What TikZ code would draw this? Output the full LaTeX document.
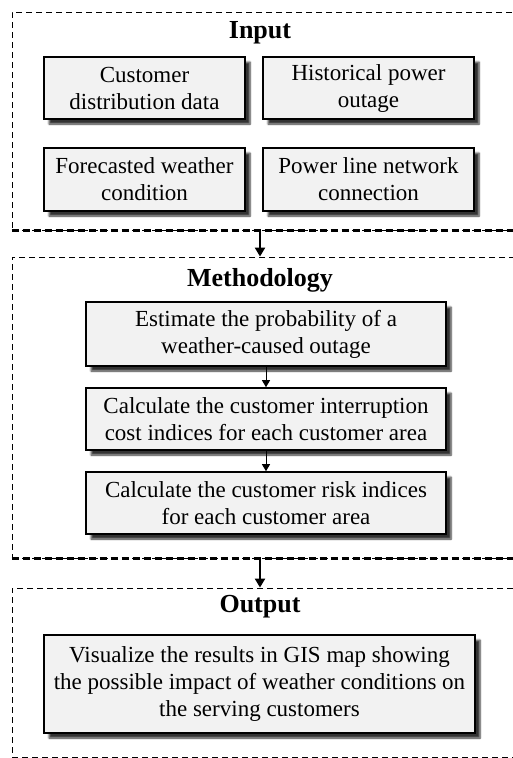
\documentclass[tikz,border=0pt]{standalone}
\usepackage{fontspec}
\setmainfont{Liberation Serif}
\usetikzlibrary{shadows.blur,arrows.meta}

\tikzset{
  cadre/.style={draw, dash pattern=on 6pt off 4pt, line width=0.9pt, inner sep=0pt},
  basgras/.style={line width=2.6pt, dash pattern=on 7pt off 4pt},
  boite/.style={draw, line width=1.6pt, fill=gray!10, align=center, inner sep=0pt,
    font=\fontsize{23}{27}\selectfont,
    blur shadow={shadow xshift=5pt, shadow yshift=-5pt, shadow opacity=80, shadow blur steps=6}},
  titre/.style={font=\fontsize{26}{30}\selectfont\bfseries},
  fleche/.style={-{Triangle[length=9pt,width=10pt]}, line width=2.6pt},
  petitefleche/.style={-{Triangle[length=7pt,width=8pt]}, line width=1pt}
}

\begin{document}
\begin{tikzpicture}[x=1pt, y=-1pt]

\useasboundingbox (0,0) rectangle (512,758);

% Cadres en pointillés (le bord droit sort de l'image)
\node[cadre, minimum width=506pt, minimum height=218pt] (entree) at (265,121) {};
\node[cadre, minimum width=506pt, minimum height=301pt] (methode) at (265,407.5) {};
\node[cadre, minimum width=506pt, minimum height=169pt] (sortie) at (265,672.5) {};
\draw[basgras] (entree.south west) -- (entree.south east);
\draw[basgras] (methode.south west) -- (methode.south east);

% Entrée
\node[titre] (tentree) at (260,33) {Input};
\node[boite, minimum width=201pt, minimum height=62pt] (clients) at (144.5,88) {Customer\\distribution data};
\node[boite, minimum width=211pt, minimum height=62pt] (historique) at (368.5,88) {Historical power\\outage};
\node[boite, minimum width=201pt, minimum height=63pt] (meteo) at (144.5,179.5) {Forecasted weather\\condition};
\node[boite, minimum width=211pt, minimum height=63pt] (reseau) at (368.5,179.5) {Power line network\\connection};

% Méthodologie
\node[titre] (tmethode) at (260,280) {Methodology};
\node[boite, minimum width=360pt, minimum height=64pt] (proba) at (266,334) {Estimate the probability of a\\weather-caused outage};
\node[boite, minimum width=360pt, minimum height=62pt] (cout) at (266,419) {Calculate the customer interruption\\cost indices for each customer area};
\node[boite, minimum width=360pt, minimum height=62pt] (risque) at (266,503) {Calculate the customer risk indices\\for each customer area};

% Sortie
\node[titre] (tsortie) at (260,607) {Output};
\node[boite, minimum width=431pt, minimum height=98pt] (carte) at (259.5,684) {Visualize the results in GIS map showing\\the possible impact of weather conditions on\\the serving customers};

% Flèches
\draw[fleche] (entree.south -| tentree) -- (methode.north -| tentree);
\draw[fleche] (methode.south -| tsortie) -- (sortie.north -| tsortie);
\draw[petitefleche] (proba) -- (cout);
\draw[petitefleche] (cout) -- (risque);

\end{tikzpicture}
\end{document}
